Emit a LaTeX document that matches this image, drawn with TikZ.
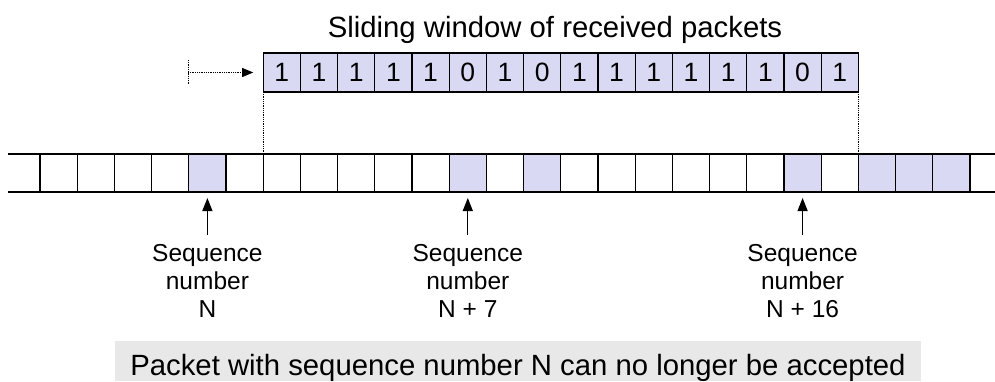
\documentclass[tikz,border=0pt]{standalone}
\usepackage{fontspec}
\setmainfont{Liberation Sans}
\usetikzlibrary{arrows.meta}
\definecolor{lav}{RGB}{217,217,243}
\definecolor{notegray}{RGB}{232,232,232}
\tikzset{
  cell/.style={draw, line width=1.3pt, minimum width=37.2pt, minimum height=38pt, inner sep=0pt, outer sep=0pt},
  shaded/.style={cell, fill=lav},
  wcell/.style={cell, fill=lav, minimum height=39pt, font=\fontsize{26.5}{30}\selectfont},
  dotline/.style={densely dotted, line width=0.8pt},
  uparrow/.style={line width=1.2pt, -{Triangle[length=13pt,width=10pt]}},
  lbl/.style={align=center, anchor=north, inner sep=0pt, font=\fontsize{24.5}{28}\selectfont},
}
\begin{document}
\begin{tikzpicture}[x=1pt,y=-1pt]
\useasboundingbox (0,0) rectangle (995,381);
% bottom row of sequence numbers
\foreach \i in {0,1,2,3,5,6,7,8,9,10,12,14,15,16,17,18,19,21}
  \node[cell] (c\i) at ({40+37.2*(\i+0.5)},173) {};
\foreach \i in {4,11,13,20,22,23,24}
  \node[shaded] (c\i) at ({40+37.2*(\i+0.5)},173) {};
\coordinate (lt) at (8,154);
\coordinate (lb) at (8,192);
\coordinate (rt) at (995,154);
\coordinate (rb) at (995,192);
\draw[line width=1.3pt] (lt) -- (c0.north west);
\draw[line width=1.3pt] (lb) -- (c0.south west);
\draw[line width=1.3pt] (c24.north east) -- (rt);
\draw[line width=1.3pt] (c24.south east) -- (rb);
% window row
\foreach \d [count=\i from 0] in {1,1,1,1,1,0,1,0,1,1,1,1,1,1,0,1}
  \node[wcell] (w\i) at ({40+37.2*(\i+6.5)},72.5) {\d};
\node[anchor=base, inner sep=0pt, font=\fontsize{29.3}{34}\selectfont] (title) at (555,37) {Sliding window of received packets};
\draw[dotline] (w0.south west) -- (c6.north west);
\draw[dotline] (w15.south east) -- (c21.north east);
% sliding arrow
\coordinate (st) at (188,60);
\coordinate (sb) at (188,84);
\coordinate (sm) at (188,72.5);
\draw[dotline] (st) -- (sb);
\draw[dotline, -{Triangle[length=11pt,width=9pt]}, shorten >=10pt] (sm) -- (w0.west);
% labels
\node[lbl] (lN) at (c4.south |- 0,244) {Sequence\\number\\N};
\node[lbl] (lN7) at (c11.south |- 0,244) {Sequence\\number\\N + 7};
\node[lbl] (lN16) at (c20.south |- 0,244) {Sequence\\number\\N + 16};
\draw[uparrow, shorten <=9pt, shorten >=6pt] (lN.north) -- (c4.south);
\draw[uparrow, shorten <=9pt, shorten >=6pt] (lN7.north) -- (c11.south);
\draw[uparrow, shorten <=9pt, shorten >=6pt] (lN16.north) -- (c20.south);
% note
\node[fill=notegray, minimum width=806pt, minimum height=40pt, inner sep=0pt] (notebg) at (518,361) {};
\node[anchor=base, inner sep=0pt, font=\fontsize{29.3}{34}\selectfont] (note) at (518,375) {Packet with sequence number N can no longer be accepted};
\end{tikzpicture}
\end{document}
